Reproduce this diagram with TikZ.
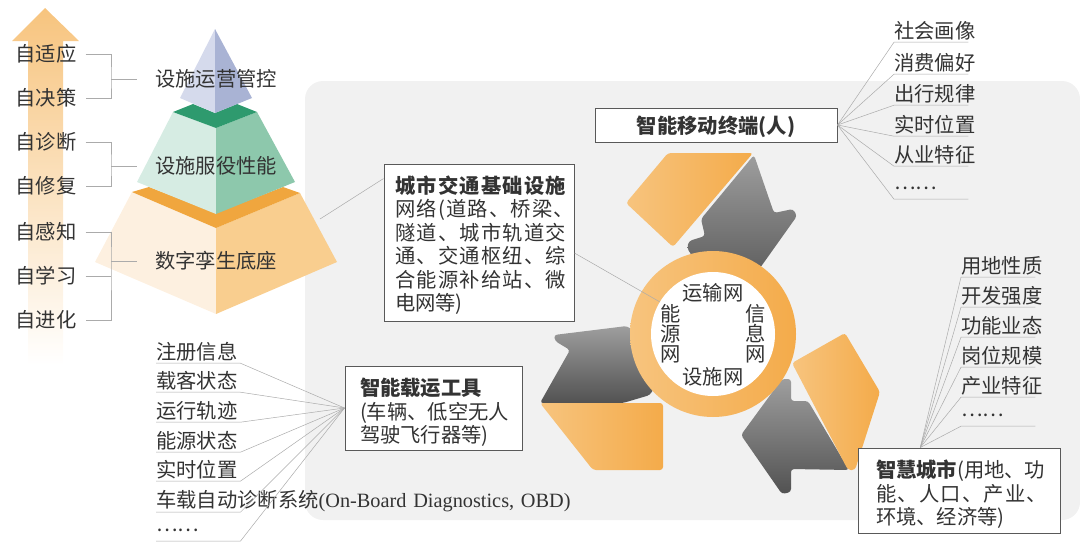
\documentclass[tikz,border=0pt]{standalone}
\usepackage{fontspec}
\setmainfont{Noto Sans CJK SC}
\newfontfamily\widecjk[LetterSpace=6]{Noto Sans CJK SC}
\newfontfamily\latinpart{Liberation Serif}
\definecolor{ink}{HTML}{333333}
\definecolor{lineg}{HTML}{ABABAB}
\definecolor{panelg}{HTML}{F1F1F1}
\definecolor{orl}{HTML}{F7C47E}
\definecolor{orr}{HTML}{F4AB4A}
\definecolor{sandl}{HTML}{FDF0E0}
\definecolor{sandr}{HTML}{F9CE8F}
\definecolor{sandband}{HTML}{F0A63E}
\definecolor{mintl}{HTML}{D6ECE3}
\definecolor{mintr}{HTML}{8DC8AC}
\definecolor{mintband}{HTML}{2E9A6E}
\definecolor{bluel}{HTML}{D5DAEC}
\definecolor{bluer}{HTML}{A9B3D4}

\begin{document}
\begin{tikzpicture}[x=1pt, y=-1pt,
    every node/.style={text=ink, font=\fontsize{20.3}{23.4}\selectfont},
    fine/.style={draw=lineg, line width=.5pt},
    word/.style={inner xsep=9pt, inner ysep=2pt},
    layer/.style={inner xsep=18pt, inner ysep=2pt},
    item/.style={anchor=west, inner sep=0pt, text width=74pt, minimum height=22pt},
    itemlong/.style={anchor=west, inner sep=0pt, text width=84pt, minimum height=22pt},
    main/.style={draw=black!65, line width=1pt, fill=white, inner sep=0pt, align=left},
    blade/.style={rounded corners=3pt, left color=orl, right color=orr},
    dart/.style={rounded corners=3pt, top color=black!38, bottom color=black!68}]
    \useasboundingbox (0,0) rectangle (1080,549);
    \fill[panelg, rounded corners=18pt] (305,81) rectangle (1080,520);

    \shade[top color=orl, middle color=orl!35!white, bottom color=white] (45,8) -- (79,41) -- (63,41) -- (63,365) -- (28,365) -- (28,41) -- (12,41) -- cycle;

    \fill[sandl] (132,192) -- (216,228) -- (216,314) -- (95,262) -- cycle;
    \fill[sandr] (300,193) -- (216,228) -- (216,314) -- (337,262) -- cycle;
    \fill[sandband] (132,192) -- (149,187) -- (216,213) -- (283,187) -- (300,193) -- (216,228) -- cycle;
    \fill[mintl] (173,112) -- (216,128) -- (216,214) -- (137,182) -- cycle;
    \fill[mintr] (257,112) -- (216,128) -- (216,214) -- (295,182) -- cycle;
    \fill[mintband] (173,112) -- (193,104) -- (215,113) -- (237,104) -- (257,112) -- (216,128) -- cycle;
    \fill[bluel] (215,29) -- (215,113) -- (180,98) -- cycle;
    \fill[bluer] (215,29) -- (215,113) -- (252,98) -- cycle;

    \node[word] (adapt) at (46,54) {自适应};
    \node[word] (decide) at (46,98) {自决策};
    \node[word] (diagnose) at (46,142) {自诊断};
    \node[word] (repair) at (46,186) {自修复};
    \node[word] (sense) at (46,232) {自感知};
    \node[word] (learn) at (46,276) {自学习};
    \node[word] (evolve) at (46,320) {自进化};
    \node[layer] (ops) at (216,79) {设施运营管控};
    \node[layer] (perf) at (216,166) {设施服役性能};
    \node[layer] (base) at (216,261) {数字孪生底座};
    \coordinate (j1) at (111,79);
    \coordinate (j2) at (111,166);
    \coordinate (j3) at (111,261);
    \draw[fine] (adapt.east) -| (j1) |- (decide.east);
    \draw[fine] (ops.west) -- (j1);
    \draw[fine] (diagnose.east) -| (j2) |- (repair.east);
    \draw[fine] (perf.west) -- (j2);
    \draw[fine] (sense.east) -| (j3) |- (evolve.east);
    \draw[fine] (learn.east) -- (learn.east -| j3);
    \draw[fine] (base.west) -- (j3);

    \shade[dart] (754,155) -- (774,213) -- (793,209) -- (797,216) -- (760,268) -- (720,300) -- (687,248) -- (689,241) -- (705,236) -- (701,219) -- cycle;
    \shade[blade] (668,153) -- (753,153) -- (673,247) -- (626,203) -- cycle;
    \shade[dart] (540,403) -- (570,350) -- (555,341) -- (554,335) -- (627,326) -- (670,360) -- (650,395) -- (623,403) -- cycle;
    \shade[blade] (540,403) -- (663,403) -- (663,470) -- (593,470) -- cycle;
    \shade[dart] (741,435) -- (782,379) -- (791,379) -- (791,401) -- (808,401) -- (849,470) -- (791,469) -- (791,492) -- (782,494) -- cycle;
    \shade[blade] (792,363) -- (845,333) -- (880,392) -- (855,470) -- (848,470) -- cycle;

    \node[circle, minimum size=166pt, inner sep=0pt, left color=orl, right color=orr] (ring) at (713,334) {};
    \node[circle, minimum size=124pt, inner sep=0pt, fill=white] (hub) at (713,334) {};
    \node[inner sep=0pt] (traffic) at (713,293) {运输网};
    \node[inner sep=0pt] (facility) at (713,377) {设施网};
    \node[inner sep=0pt, align=center] (energy) at (671,334) {能\\[-3.4pt]源\\[-3.4pt]网};
    \node[inner sep=0pt, align=center] (info) at (756,334) {信\\[-3.4pt]息\\[-3.4pt]网};

    \node[main, text width=168pt, inner xsep=11pt, minimum height=157pt] (infra) at (479,243) {\rule{0pt}{22pt}{\widecjk\bfseries 城市交通基础设施}\\{\widecjk 网络(道路、桥梁、}\\{\widecjk 隧道、城市轨道交}\\{\widecjk 通、交通枢纽、综}\\{\widecjk 合能源补给站、微}\\电网等)};
    \node[main, minimum width=242pt, minimum height=34pt, align=center] (mobile) at (716,125) {\rule{0pt}{22pt}\bfseries 智能移动终端(人)};
    \node[main, text width=147pt, inner xsep=15pt, minimum height=84pt] (carrier) at (433.5,408) {\rule{0pt}{26pt}\bfseries 智能载运工具\\\mdseries (车辆、低空无人\\驾驶飞行器等)};
    \node[main, text width=166pt, inner xsep=18pt, minimum height=85pt] (city) at (959,490.5) {\rule{0pt}{25pt}{\bfseries 智慧城市}(用地、功\\{\widecjk 能、人口、产业、}\\环境、经济等)};
    \coordinate (taper) at (320,219);
    \coordinate (tap) at (660,302);
    \draw[fine] (taper) -- (infra.146);
    \draw[fine] (infra.-6) -- (tap);

    \node[item] (m1) at (894,31) {社会画像};
    \node[item] (m2) at (894,63) {消费偏好};
    \node[item] (m3) at (894,94) {出行规律};
    \node[item] (m4) at (894,125) {实时位置};
    \node[item] (m5) at (894,155) {从业特征};
    \node[item] (m6) at (894,188) {……};
    \draw[fine] (m1.south east) -- (m1.south west) -- (mobile.east);
    \draw[fine] (m2.south east) -- (m2.south west) -- (mobile.east);
    \draw[fine] (m3.south east) -- (m3.south west) -- (mobile.east);
    \draw[fine] (m4.south east) -- (m4.south west) -- (mobile.east);
    \draw[fine] (m5.south east) -- (m5.south west) -- (mobile.east);
    \draw[fine] (m6.south east) -- (m6.south west) -- (mobile.east);

    \node[item] (u1) at (961,266) {用地性质};
    \node[item] (u2) at (961,296) {开发强度};
    \node[item] (u3) at (961,326) {功能业态};
    \node[item] (u4) at (961,356) {岗位规模};
    \node[item] (u5) at (961,386) {产业特征};
    \node[item] (u6) at (961,415) {……};
    \draw[fine] (u1.south east) -- (u1.south west) -- (city.132);
    \draw[fine] (u2.south east) -- (u2.south west) -- (city.132);
    \draw[fine] (u3.south east) -- (u3.south west) -- (city.132);
    \draw[fine] (u4.south east) -- (u4.south west) -- (city.132);
    \draw[fine] (u5.south east) -- (u5.south west) -- (city.132);
    \draw[fine] (u6.south east) -- (u6.south west) -- (city.132);

    \node[itemlong] (c1) at (156,352) {注册信息};
    \node[itemlong] (c2) at (156,381) {载客状态};
    \node[itemlong] (c3) at (156,411) {运行轨迹};
    \node[itemlong] (c4) at (156,441) {能源状态};
    \node[itemlong] (c5) at (156,470) {实时位置};
    \node[itemlong] (c6) at (156,501) {车载自动诊断系统\mbox{\latinpart (On-Board Diagnostics, OBD)}};
    \node[itemlong] (c7) at (156,530) {……};
    \draw[fine] (c1.south west) -- (c1.south east) -- (carrier.west);
    \draw[fine] (c2.south west) -- (c2.south east) -- (carrier.west);
    \draw[fine] (c3.south west) -- (c3.south east) -- (carrier.west);
    \draw[fine] (c4.south west) -- (c4.south east) -- (carrier.west);
    \draw[fine] (c5.south west) -- (c5.south east) -- (carrier.west);
    \draw[fine] (c6.south west) -- (c6.south east) -- (carrier.west);
    \draw[fine] (c7.south west) -- (c7.south east) -- (carrier.west);
\end{tikzpicture}
\end{document}
